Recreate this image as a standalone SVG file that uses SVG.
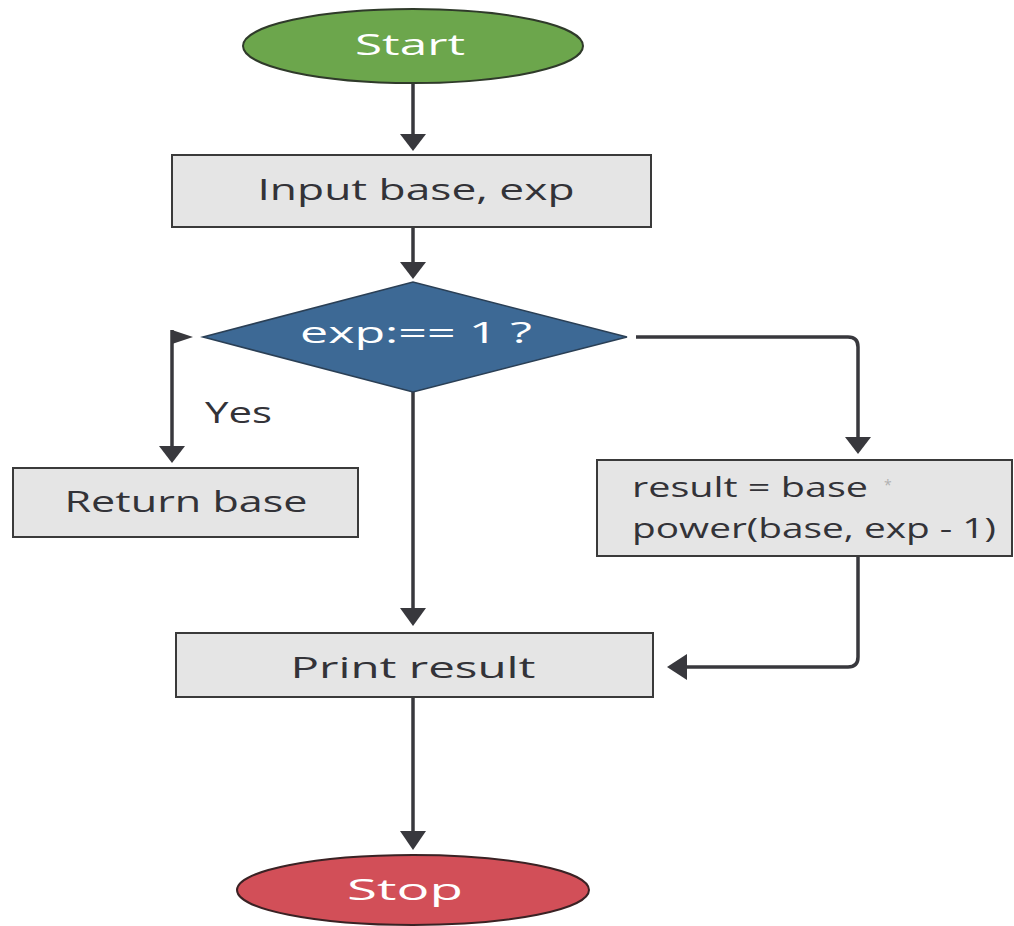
<svg xmlns="http://www.w3.org/2000/svg" width="1014" height="926" viewBox="0 0 1014 926">
<defs>
<style>
.t{font-family:"Open Sans","Liberation Sans",sans-serif;font-size:29px;}
.w{fill:#ffffff;}
.d{fill:#333338;}
.box{fill:#e5e5e5;stroke:#3a3a3a;stroke-width:2;}
.ln{fill:none;stroke:#38383d;stroke-width:3.5;}
</style>
<marker id="ah" markerWidth="8" markerHeight="8" refX="7" refY="4" orient="auto" markerUnits="userSpaceOnUse" viewBox="0 0 8 8">
<path d="M0,0 L8,4 L0,8 Z" fill="#38383d"/>
</marker>
</defs>
<rect width="1014" height="926" fill="#ffffff"/>
<g id="connectors">
<path class="ln" d="M413,83 V137"/>
<polygon points="400,134 426,134 413,151" fill="#38383d"/>
<path class="ln" d="M413,227 V263"/>
<polygon points="400,262 426,262 413,279" fill="#38383d"/>
<path class="ln" d="M413,392 V611"/>
<polygon points="400,608 426,608 413,626" fill="#38383d"/>
<path class="ln" d="M172,330 V449"/>
<polygon points="172,330 193,337 172,344" fill="#38383d"/>
<polygon points="159,446 185,446 172,463" fill="#38383d"/>
<path class="ln" d="M636,337 H848 Q858,337 858,347 V440"/>
<polygon points="845,437 871,437 858,454" fill="#38383d"/>
<path class="ln" d="M858,556 V657 Q858,667 848,667 H684"/>
<polygon points="687,654 687,680 667,667" fill="#38383d"/>
<path class="ln" d="M413,697 V834"/>
<polygon points="400,831 426,831 413,850" fill="#38383d"/>
</g>
<g id="start">
<ellipse cx="413" cy="46" rx="170" ry="37" fill="#6ca64c" stroke="#2f3a2a" stroke-width="2"/>
<text class="t w" x="410" y="55" text-anchor="middle" textLength="110" lengthAdjust="spacingAndGlyphs">Start</text>
</g>
<g id="input">
<rect class="box" x="172" y="155" width="479" height="72"/>
<text class="t d" x="416" y="200" text-anchor="middle" textLength="317" lengthAdjust="spacingAndGlyphs">Input base, exp</text>
</g>
<g id="decision">
<polygon points="203,337 413,282 627,337 413,392" fill="#3d6995" stroke="#2a3f55" stroke-width="1.5"/>
<text class="t w" x="416" y="343" text-anchor="middle" textLength="232" lengthAdjust="spacingAndGlyphs">exp:== 1 ?</text>
</g>
<g id="yes-label">
<text class="t d" x="205" y="423" textLength="67" lengthAdjust="spacingAndGlyphs">Yes</text>
</g>
<g id="return">
<rect class="box" x="13" y="468" width="345" height="69"/>
<text class="t d" x="186" y="512" text-anchor="middle" textLength="243" lengthAdjust="spacingAndGlyphs">Return base</text>
</g>
<g id="compute">
<rect class="box" x="597" y="460" width="415" height="96"/>
<text class="t d" x="632" y="497" textLength="236" lengthAdjust="spacingAndGlyphs" style="font-size:27px">result = base</text>
<text x="884" y="490" style="font-family:'Open Sans',sans-serif;font-size:14px;fill:#b0b0b0">*</text>
<text class="t d" x="632" y="538" textLength="364" lengthAdjust="spacingAndGlyphs" style="font-size:27px">power(base, exp - 1)</text>
</g>
<g id="print">
<rect class="box" x="176" y="633" width="477" height="64"/>
<text class="t d" x="413" y="678" text-anchor="middle" textLength="245" lengthAdjust="spacingAndGlyphs">Print result</text>
</g>
<g id="stop">
<ellipse cx="413" cy="890" rx="176" ry="35" fill="#d24f58" stroke="#3a2224" stroke-width="2"/>
<text class="t w" x="405" y="900" text-anchor="middle" textLength="116" lengthAdjust="spacingAndGlyphs">Stop</text>
</g>
</svg>
